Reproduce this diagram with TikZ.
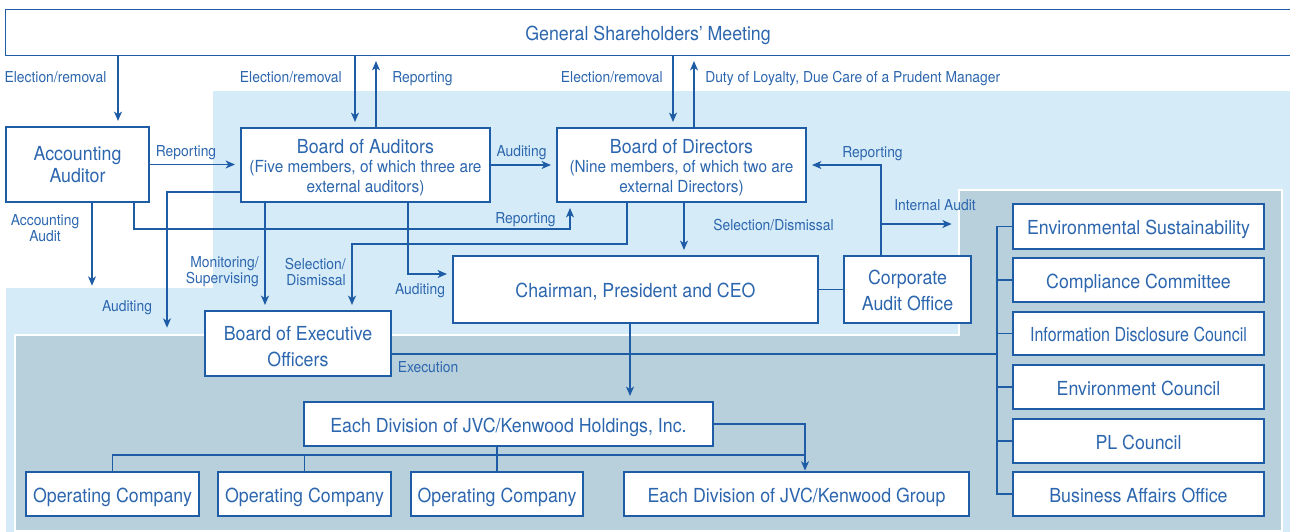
\documentclass[tikz,border=0pt]{standalone}
\usepackage{fontspec}
\setmainfont{TeX Gyre Heros}[FakeStretch=0.92]
\usetikzlibrary{arrows.meta}
\definecolor{jkline}{HTML}{1F5CA6}
\definecolor{jktext}{HTML}{2C66AE}
\definecolor{jklight}{HTML}{D5EBF8}
\definecolor{jkgray}{HTML}{B8CFDC}
\newcommand{\orgbox}{\fontsize{14.5}{19.5}\selectfont}
\newcommand{\orgtwo}{\fontsize{14.5}{14.7}\selectfont}
\newcommand{\orgsub}{\fontsize{12.5}{14.7}\selectfont}
\newcommand{\orglab}{\fontsize{11.3}{12}\selectfont}
% struts that push box texts a little down
\newcommand{\orgone}{\rule[-3.2pt]{0pt}{18.8pt}}
\newcommand{\orgtop}[1]{\rule{0pt}{#1}}
\begin{document}
\begin{tikzpicture}[x=0.75pt,y=0.75pt,yscale=-1,xscale=1,
  unit/.style={draw=jkline, line width=1.1pt, fill=white, text=jktext, inner sep=0pt, align=center, font=\orgbox},
  sz/.style 2 args={minimum width=#1*0.75pt, minimum height=#2*0.75pt},
  lab/.style={text=jktext, inner sep=0pt, font=\orglab},
  link/.style={draw=jkline, line width=0.9pt},
  arr/.style={link, -{Stealth[length=7pt,width=6pt,inset=2pt]}, shorten >=4pt}]
\useasboundingbox (0,0) rectangle (1290,532);
%Backgrounds
\fill[jklight] (213,91) -- (1290,91) -- (1290,532) -- (6,532) -- (6,288) -- (213,288) -- cycle;
\filldraw[fill=jkgray, draw=white, line width=1pt] (15,335) -- (959,335) -- (959,190) -- (1282,190) -- (1282,531) -- (15,531) -- cycle;
%Boxes
\node[unit, draw=none, sz={1284}{45}] (gsm) at (648,32.5) {\orgone General Shareholders’ Meeting};
\draw[jkline, line width=1.1pt] (gsm.north east) -- (gsm.north west) -- (gsm.south west) -- (gsm.south east);
\node[unit, sz={143}{75}, font=\fontsize{14.5}{16.5}\selectfont] (acc) at (77.5,164.5) {Accounting\\Auditor};
\node[unit, sz={249}{74}, font=\orgtwo] (boa) at (365.5,165) {\orgtop{14.4pt}Board of Auditors\\{\orgsub (Five members, of which three are}\\{\orgsub external auditors)}};
\node[unit, sz={249}{74}, font=\orgtwo] (bod) at (681.5,165) {\orgtop{14.4pt}Board of Directors\\{\orgsub (Nine members, of which two are}\\{\orgsub external Directors)}};
\node[unit, sz={365}{67}] (ceo) at (635.5,289.5) {\orgone Chairman, President and CEO};
\node[unit, sz={127}{67}] (cao) at (907.5,289.5) {\orgtop{12.4pt}Corporate\\Audit Office};
\node[unit, sz={186}{65}] (beo) at (298,343.5) {\orgtop{15.5pt}Board of Executive\\Officers};
\node[unit, sz={409}{44}] (hold) at (508.5,424) {\orgone Each Division of JVC/Kenwood Holdings, Inc.};
\node[unit, sz={173}{44}] (opa) at (112.5,494) {\orgone Operating Company};
\node[unit, sz={173}{44}] (opb) at (304.5,494) {\orgone Operating Company};
\node[unit, sz={172}{44}] (opc) at (497,494) {\orgone Operating Company};
\node[unit, sz={345}{44}] (grp) at (796.5,494) {\orgone Each Division of JVC/Kenwood Group};
\node[unit, sz={251}{45}] (envs) at (1138.5,226.5) {\orgone Environmental Sustainability};
\node[unit, sz={251}{44}] (comp) at (1138.5,280) {\orgone Compliance Committee};
\node[unit, sz={251}{43}] (info) at (1138.5,333.5) {\orgone\scalebox{0.9}[1]{Information Disclosure Council}};
\node[unit, sz={251}{44}] (envc) at (1138.5,387) {\orgone Environment Council};
\node[unit, sz={251}{44}] (plc) at (1138.5,441) {\orgone PL Council};
\node[unit, sz={251}{44}] (bao) at (1138.5,494) {\orgone Business Affairs Office};
%Turning points
\coordinate (xa) at (118,0);
\coordinate (xb) at (355,0);
\coordinate (xc) at (376,0);
\coordinate (xd) at (673,0);
\coordinate (xe) at (694,0);
\coordinate (xf) at (265,0);
\coordinate (xg) at (684,0);
\coordinate (xh) at (630,0);
\coordinate (aa) at (92,291);
\coordinate (ra) at (134,229);
\coordinate (rb) at (570,229);
\coordinate (ma) at (167,192);
\coordinate (mb) at (167,333);
\coordinate (sa) at (627,244);
\coordinate (sb) at (352,244);
\coordinate (ba) at (408,274);
\coordinate (ia) at (881,224);
\coordinate (ib) at (957,224);
\coordinate (bus) at (997,354);
\coordinate (gb) at (805,455);
%Straight Lines
\draw[arr] (gsm.south -| xa) -- (acc.north -| xa);
\draw[arr] (gsm.south -| xb) -- (boa.north -| xb);
\draw[arr] (boa.north -| xc) -- (gsm.south -| xc);
\draw[arr] (gsm.south -| xd) -- (bod.north -| xd);
\draw[arr] (bod.north -| xe) -- (gsm.south -| xe);
\draw[arr] (acc.east) -- (acc.east -| boa.west);
\draw[arr] (boa.east) -- (bod.west);
\draw[arr] (acc.south -| aa) -- (aa);
\draw[arr] (acc.south -| ra) -- (ra) -- (rb) -- (bod.south -| rb);
\draw[arr] (boa.west |- ma) -- (ma) -- (mb);
\draw[arr] (boa.south -| xf) -- (beo.north -| xf);
\draw[arr] (bod.south -| sa) -- (sa) -- (sb) -- (beo.north -| sb);
\draw[arr] (boa.south -| ba) -- (ba) -- (ceo.west |- ba);
\draw[arr] (bod.south -| xg) -- (ceo.north -| xg);
\draw[link] (ceo.east) -- (cao.west);
\draw[arr] (cao.north -| ia) -- (ia) |- (bod.east);
\draw[arr] (ia) -- (ib);
\draw[arr] (ceo.south -| xh) -- (hold.north -| xh);
\draw[link] (beo.east |- bus) -- (bus);
\draw[link] (envs.west) -| (bus) |- (bao.west);
\draw[link] (comp.west) -- (comp.west -| bus);
\draw[link] (info.west) -- (info.west -| bus);
\draw[link] (envc.west) -- (envc.west -| bus);
\draw[link] (plc.west) -- (plc.west -| bus);
\draw[link] (hold.south -| opc.north) -- (opc.north);
\draw[link] (opa.north) |- (gb);
\draw[link] (opb.north) -- (opb.north |- gb);
\draw[arr, shorten >=0.5pt] (hold.east) -| (grp.north -| gb);
% Text Node
\node[lab, anchor=base] (t1) at (55.5,82) {Election/removal};
\node[lab, anchor=base east] (t2) at (342,82) {Election/removal};
\node[lab, anchor=base west] (t3) at (392,82) {Reporting};
\node[lab, anchor=base east] (t4) at (663,82) {Election/removal};
\node[lab, anchor=base west] (t5) at (705,82) {Duty of Loyalty, Due Care of a Prudent Manager};
\node[lab, anchor=base] (t6) at (186,156.3) {Reporting};
\node[lab, anchor=base] (t7) at (521.5,156.3) {Auditing};
\node[lab, anchor=base] (t8) at (525.5,223.3) {Reporting};
\node[lab, anchor=base] (t9) at (872.5,157.3) {Reporting};
\node[lab, anchor=base] (t10) at (935,210) {Internal Audit};
\node[lab, anchor=base] (t11) at (773.5,230) {Selection/Dismissal};
\node[lab, align=center] (t12) at (45,228) {Accounting\\Audit};
\node[lab, align=right, anchor=east] (t13) at (259,272) {Monitoring/\\Supervising};
\node[lab, align=right, anchor=east] (t14) at (346,272) {Selection/\\Dismissal};
\node[lab, anchor=base] (t15) at (420,294.3) {Auditing};
\node[lab, anchor=base] (t16) at (127,311.7) {Auditing};
\node[lab, anchor=base] (t17) at (428,372) {Execution};
\end{tikzpicture}
\end{document}
